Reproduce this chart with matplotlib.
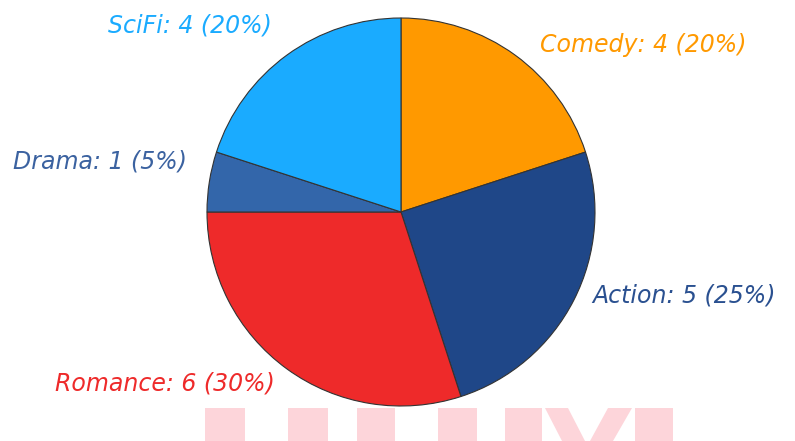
import matplotlib.pyplot as plt
from matplotlib.patches import Polygon

W, H = 795, 441

# Données
genres = ["Comedy", "Action", "Romance", "Drama", "SciFi"]
counts = [4, 5, 6, 1, 4]
colors = ["#ff9900", "#1f4788", "#ee2a2a", "#3366aa", "#1aabff"]
label_colors = ["#ff9900", "#2a5090", "#ee2a2a", "#3b62a0", "#1aabff"]

# Position des étiquettes (pixels, depuis le haut) et alignement
label_pos = [(540, 45, "left"), (592, 295, "left"), (275, 383, "right"),
             (187, 162, "right"), (272, 25, "right")]


def fx(x):
    return x / W


def fy(y):
    return 1 - y / H


fig = plt.figure(figsize=(W / 100, H / 100), dpi=100)

# Filigrane rose en bas
wm = "#fdd5da"
shapes = [
    [(205, 408), (245, 408), (245, 441), (205, 441)],
    [(288, 408), (328, 408), (328, 441), (288, 441)],
    [(357, 408), (395, 408), (395, 441), (357, 441)],
    [(438, 408), (477, 408), (477, 441), (438, 441)],
    [(505, 408), (542, 408), (542, 441), (505, 441)],
    [(545, 408), (568, 408), (585, 441), (562, 441)],
    [(608, 408), (632, 408), (613, 441), (590, 441)],
    [(635, 408), (673, 408), (673, 441), (635, 441)],
]
for s in shapes:
    fig.add_artist(Polygon([(fx(x), fy(y)) for x, y in s], closed=True,
                           transform=fig.transFigure, facecolor=wm,
                           edgecolor="none", zorder=0))

# Camembert : centre (401, 212), rayon 194
cx, cy, r = 401, 212, 194
ax = fig.add_axes([fx(cx - r), fy(cy + r), 2 * r / W, 2 * r / H])
ax.pie(counts, colors=colors, startangle=90, counterclock=False, radius=1,
       wedgeprops=dict(edgecolor="#333333", linewidth=0.8))
ax.set_xlim(-1, 1)
ax.set_ylim(-1, 1)
ax.set_aspect("equal")
ax.axis("off")

total = sum(counts)
for g, c, col, (x, y, ha) in zip(genres, counts, label_colors, label_pos):
    fig.text(fx(x), fy(y), f"{g}: {c} ({round(c / total * 100)}%)",
             color=col, ha=ha, va="center", fontsize=17, style="italic")

fig.savefig("out.png", dpi=100)
